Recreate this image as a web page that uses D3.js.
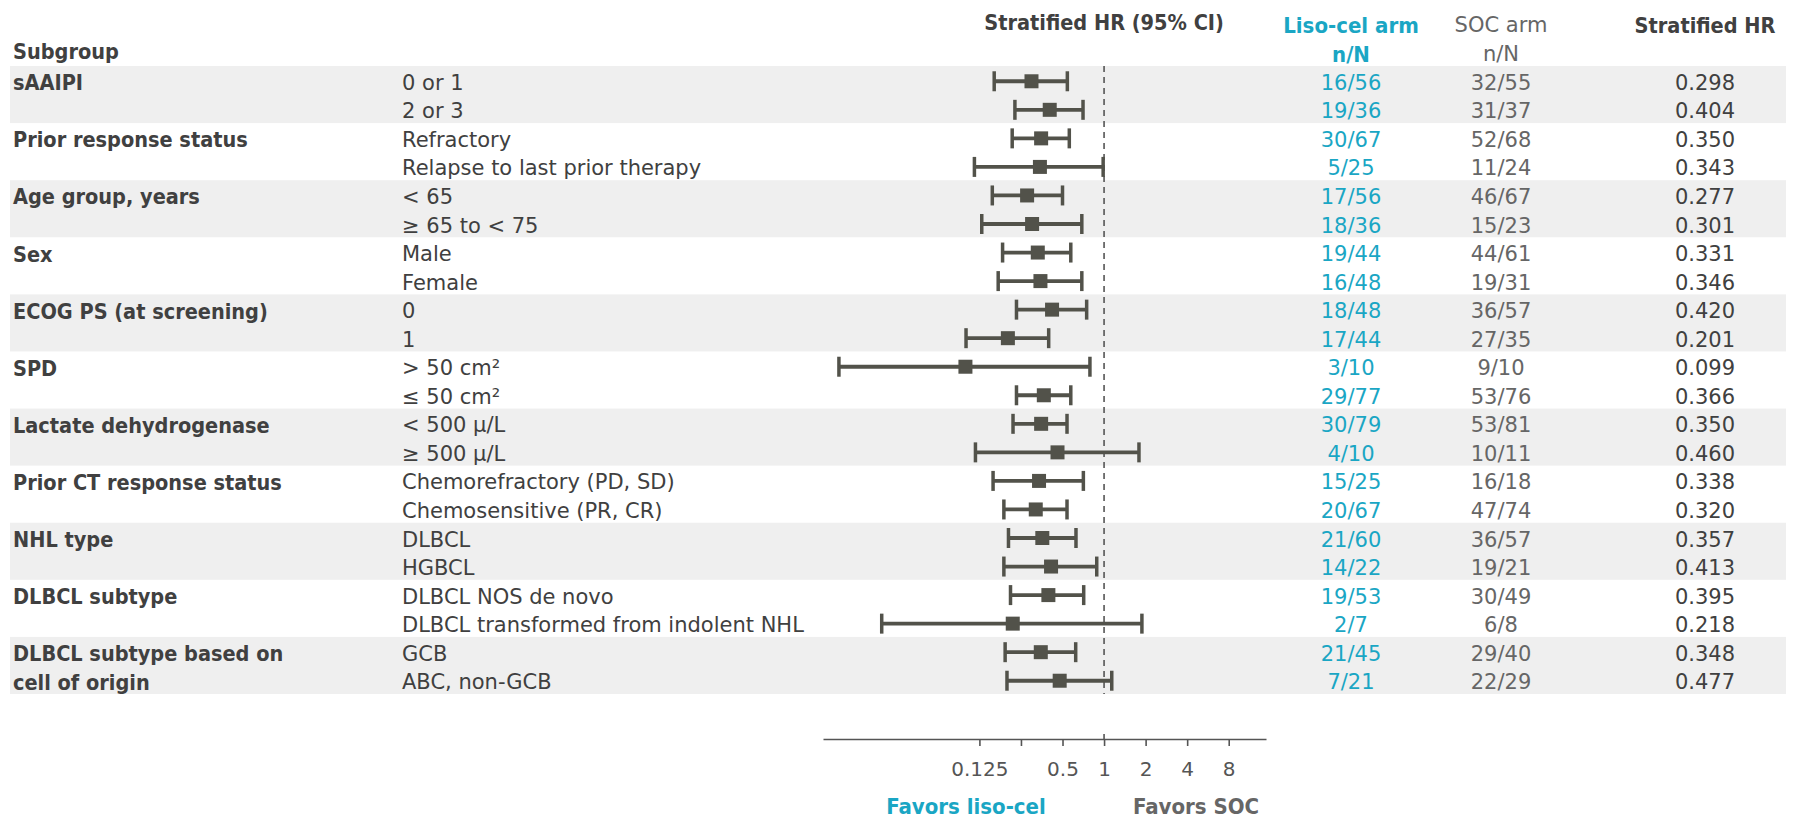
<!DOCTYPE html>
<html>
<head>
<meta charset="utf-8">
<script src="https://cdn.jsdelivr.net/npm/d3@7"></script>
<style>
  html, body { margin: 0; padding: 0; background: #ffffff; }
  svg { display: block; }
  text { font-family: "DejaVu Sans", sans-serif; }
  text.b { font-family: "DejaVu Sans Condensed", "DejaVu Sans", sans-serif; font-weight: bold; }
</style>
</head>
<body>
<svg id="chart" width="1796" height="822"></svg>
<script>
// ---------------- DATA ----------------
const groups = [
  ["sAAIPI"],
  ["Prior response status"],
  ["Age group, years"],
  ["Sex"],
  ["ECOG PS (at screening)"],
  ["SPD"],
  ["Lactate dehydrogenase"],
  ["Prior CT response status"],
  ["NHL type"],
  ["DLBCL subtype"],
  ["DLBCL subtype based on", "cell of origin"]
];
const levels = [
  "0 or 1", "2 or 3",
  "Refractory", "Relapse to last prior therapy",
  "< 65", "≥ 65 to < 75",
  "Male", "Female",
  "0", "1",
  "> 50 cm²", "≤ 50 cm²",
  "< 500 µ/L", "≥ 500 µ/L",
  "Chemorefractory (PD, SD)", "Chemosensitive (PR, CR)",
  "DLBCL", "HGBCL",
  "DLBCL NOS de novo", "DLBCL transformed from indolent NHL",
  "GCB", "ABC, non-GCB"
];
const lisoArm = ["16/56","19/36","30/67","5/25","17/56","18/36","19/44","16/48","18/48","17/44","3/10","29/77","30/79","4/10","15/25","20/67","21/60","14/22","19/53","2/7","21/45","7/21"];
const socArm  = ["32/55","31/37","52/68","11/24","46/67","15/23","44/61","19/31","36/57","27/35","9/10","53/76","53/81","10/11","16/18","47/74","36/57","19/21","30/49","6/8","29/40","22/29"];
const hr    = [0.298,0.404,0.350,0.343,0.277,0.301,0.331,0.346,0.420,0.201,0.099,0.366,0.350,0.460,0.338,0.320,0.357,0.413,0.395,0.218,0.348,0.477];
const lower = [0.160,0.226,0.216,0.115,0.155,0.130,0.184,0.171,0.232,0.100,0.012,0.232,0.219,0.117,0.157,0.188,0.203,0.188,0.210,0.0245,0.192,0.198];
const upper = [0.542,0.704,0.560,0.985,0.500,0.690,0.574,0.690,0.748,0.397,0.790,0.574,0.539,1.790,0.708,0.539,0.626,0.885,0.712,1.880,0.623,1.137];
const axisTicks = [0.125, 0.25, 0.5, 1, 2, 4, 8];
const axisTickLabels = ["0.125", "", "0.5", "1", "2", "4", "8"];

// ---------------- STYLE ----------------
const TEAL = "#1aa6c4";
const DARK = "#404040";
const GREY = "#666666";
const CI = "#52524a";
const BAND = "#efefef";
const FS = 21;     // regular text
const FB = 21.5;   // bold text

const svg = d3.select("#chart");

const rowIdx = d3.range(levels.length);
const y = d3.scaleBand().domain(rowIdx).range([66, 694]).paddingInner(0).paddingOuter(0);
const yc = i => y(i) + y.bandwidth() / 2 + 1;
const yt = i => yc(i) + 1.5;
const x = d3.scaleLog().base(2).domain([0.0092, 14.9]).range([823, 1266]);

// bands
groups.forEach((g, gi) => {
  if (gi % 2 === 0) {
    svg.append("rect")
      .attr("x", 10).attr("width", 1776)
      .attr("y", y(gi * 2)).attr("height", y.bandwidth() * 2)
      .attr("fill", BAND);
  }
});

// headers
svg.append("text").attr("class", "b").attr("x", 13).attr("y", 51).attr("dominant-baseline", "central")
  .attr("font-size", FB).attr("fill", DARK).text("Subgroup");
svg.append("text").attr("class", "b").attr("x", x(1)).attr("y", 22).attr("dominant-baseline", "central")
  .attr("text-anchor", "middle").attr("font-size", FB).attr("fill", DARK)
  .text("Stratified HR (95% CI)");
const COL_LISO = 1351, COL_SOC = 1501, COL_HR = 1705;
[["Liso-cel arm", 25], ["n/N", 54]].forEach(([t, yy]) =>
  svg.append("text").attr("class", "b").attr("x", COL_LISO).attr("y", yy).attr("dominant-baseline", "central")
    .attr("text-anchor", "middle").attr("font-size", 22).attr("fill", TEAL).text(t));
[["SOC arm", 25], ["n/N", 54]].forEach(([t, yy]) =>
  svg.append("text").attr("x", COL_SOC).attr("y", yy).attr("dominant-baseline", "central")
    .attr("text-anchor", "middle").attr("font-size", FS).attr("fill", GREY).text(t));
svg.append("text").attr("class", "b").attr("x", COL_HR).attr("y", 25).attr("dominant-baseline", "central")
  .attr("text-anchor", "middle").attr("font-size", FB).attr("fill", DARK)
  .text("Stratified HR");

// group labels
groups.forEach((g, gi) => {
  g.forEach((line, li) => {
    svg.append("text").attr("class", "b").attr("x", 13).attr("y", yt(gi * 2 + li)).attr("dominant-baseline", "central")
      .attr("font-size", FB).attr("fill", DARK).text(line);
  });
});

// level labels + columns
const rows = svg.append("g").selectAll("g").data(rowIdx).join("g");
rows.append("text").attr("x", 402).attr("y", i => yt(i)).attr("dominant-baseline", "central")
  .attr("font-size", FS).attr("fill", DARK).text(i => levels[i]);
rows.append("text").attr("x", COL_LISO).attr("y", i => yt(i)).attr("dominant-baseline", "central")
  .attr("text-anchor", "middle").attr("font-size", FS).attr("fill", TEAL).text(i => lisoArm[i]);
rows.append("text").attr("x", COL_SOC).attr("y", i => yt(i)).attr("dominant-baseline", "central")
  .attr("text-anchor", "middle").attr("font-size", FS).attr("fill", GREY).text(i => socArm[i]);
rows.append("text").attr("x", COL_HR).attr("y", i => yt(i)).attr("dominant-baseline", "central")
  .attr("text-anchor", "middle").attr("font-size", FS).attr("fill", DARK).text(i => hr[i].toFixed(3));

// reference line at HR = 1
svg.append("line").attr("x1", x(1)).attr("x2", x(1)).attr("y1", 66).attr("y2", 694)
  .attr("stroke", "#555").attr("stroke-width", 1.6).attr("stroke-dasharray", "6,5");

// CIs
const ci = svg.append("g").selectAll("g").data(rowIdx).join("g");
ci.append("line").attr("x1", i => x(lower[i])).attr("x2", i => x(upper[i]))
  .attr("y1", i => yc(i)).attr("y2", i => yc(i)).attr("stroke", CI).attr("stroke-width", 3.8);
ci.append("line").attr("x1", i => x(lower[i])).attr("x2", i => x(lower[i]))
  .attr("y1", i => yc(i) - 10).attr("y2", i => yc(i) + 10).attr("stroke", CI).attr("stroke-width", 3.5);
ci.append("line").attr("x1", i => x(upper[i])).attr("x2", i => x(upper[i]))
  .attr("y1", i => yc(i) - 10).attr("y2", i => yc(i) + 10).attr("stroke", CI).attr("stroke-width", 3.5);
ci.append("rect").attr("x", i => x(hr[i]) - 7).attr("y", i => yc(i) - 7)
  .attr("width", 14).attr("height", 14).attr("fill", CI);

// axis
const axisY = 739;
const ax = svg.append("g").attr("transform", `translate(0,${axisY})`)
  .call(d3.axisBottom(x).tickValues(axisTicks).tickSize(7).tickSizeOuter(0)
    .tickFormat((d, i) => axisTickLabels[i]));
ax.select(".domain").attr("stroke", "#555").attr("stroke-width", 1.6);
ax.selectAll(".tick line").attr("stroke", "#555").attr("stroke-width", 1.6);
ax.selectAll(".tick text").attr("font-size", 20).attr("fill", "#555")
  .attr("font-family", "'DejaVu Sans', sans-serif").attr("y", 30).attr("dy", "0.35em");
svg.append("line").attr("x1", x(1)).attr("x2", x(1)).attr("y1", axisY - 5).attr("y2", axisY)
  .attr("stroke", "#555").attr("stroke-width", 1.6);

svg.append("text").attr("class", "b").attr("x", 966).attr("y", 806).attr("dominant-baseline", "central")
  .attr("text-anchor", "middle").attr("font-size", 22).attr("fill", TEAL)
  .text("Favors liso-cel");
svg.append("text").attr("class", "b").attr("x", 1196).attr("y", 806).attr("dominant-baseline", "central")
  .attr("text-anchor", "middle").attr("font-size", 22).attr("fill", GREY)
  .text("Favors SOC");
</script>
</body>
</html>
